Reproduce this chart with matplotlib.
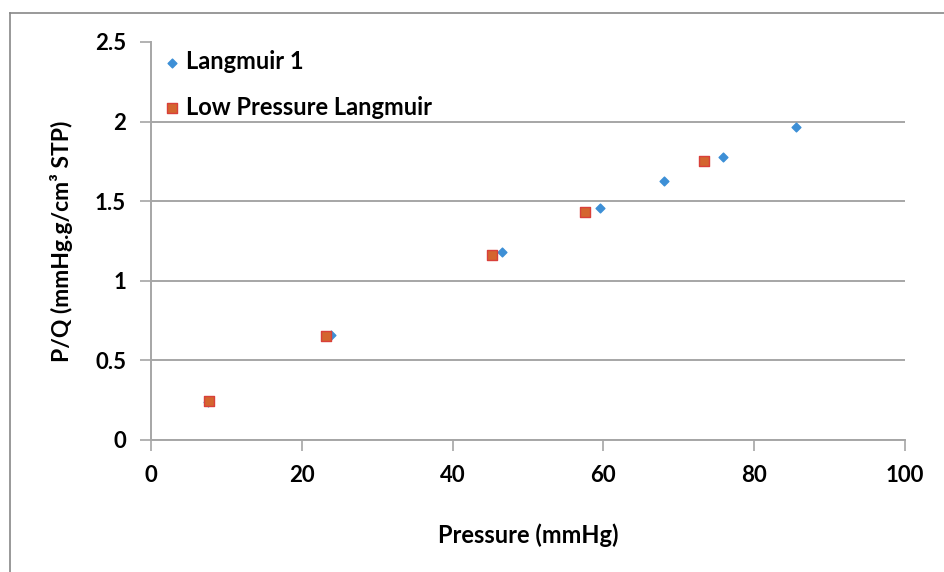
import matplotlib
matplotlib.use("Agg")
import matplotlib.pyplot as plt
from matplotlib.lines import Line2D

# Langmuir 1 series
p_langmuir = [7.6, 23.9, 46.6, 59.5, 68.0, 75.8, 85.6]
pq_langmuir = [0.24, 0.66, 1.18, 1.455, 1.63, 1.78, 1.965]

# Low pressure Langmuir series
p_low = [7.7, 23.2, 45.2, 57.6, 73.3]
pq_low = [0.246, 0.655, 1.165, 1.43, 1.75]

x_ticks = [0, 20, 40, 60, 80, 100]
y_ticks = [0, 0.5, 1, 1.5, 2, 2.5]

plt.rcParams['font.family'] = ['Lato', 'DejaVu Sans']
plt.rcParams['font.weight'] = 'bold'
plt.rcParams['axes.labelweight'] = 'bold'
grey = '#a6a6a6'
fs = 16

fig = plt.figure(figsize=(9.44, 5.72), dpi=100)
ax = fig.add_axes([151/944, 1-440/572, (905-151)/944, (440-42)/572])

ax.scatter(p_langmuir, pq_langmuir, marker='D', s=20, color='#3d8fd6',
           zorder=3, label='Langmuir 1')
ax.scatter(p_low, pq_low, marker='s', s=50, facecolor='#d4652f',
           edgecolor='#d9403a', linewidth=1, zorder=4, label='Low Pressure Langmuir')

ax.set_xlim(0, 100)
ax.set_ylim(0, 2.5)
ax.set_xticks(x_ticks)
ax.set_yticks(y_ticks)
ax.set_yticklabels([f'{v:g}' for v in y_ticks])
ax.tick_params(labelsize=fs, length=8, width=1.2, color=grey, pad=10)

ax.yaxis.grid(True, color=grey, linewidth=1.4)
ax.get_ygridlines()[-1].set_visible(False)
ax.set_axisbelow(True)

for s in ['top', 'right']:
    ax.spines[s].set_visible(False)
for s in ['left', 'bottom']:
    ax.spines[s].set_color(grey)
    ax.spines[s].set_linewidth(1.4)

ax.set_xlabel('Pressure (mmHg)', fontsize=fs + 1, labelpad=27)
ax.set_ylabel('P/Q (mmHg.g/cm³ STP)', fontsize=fs + 0.5, labelpad=16)

ax.legend(loc='upper left', frameon=False, fontsize=fs + 1, handletextpad=0.05,
          handlelength=1.1, labelspacing=0.95, borderaxespad=0.0,
          borderpad=0.35, scatterpoints=1)

# chart border (only left and top visible in the crop)
fig.add_artist(Line2D([10/944, 10/944], [0, 1-13/572], color='#888888', linewidth=1.2))
fig.add_artist(Line2D([10/944, 1], [1-13/572, 1-13/572], color='#888888', linewidth=1.2))

fig.savefig('out.png', dpi=100)
